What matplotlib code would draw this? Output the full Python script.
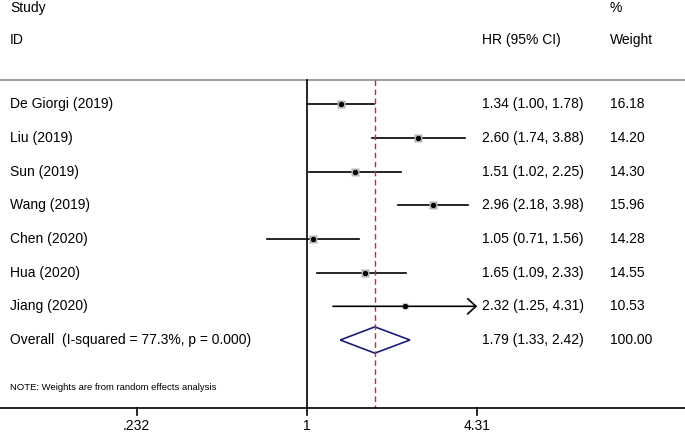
import numpy as np
import matplotlib.pyplot as plt

studies = ['De Giorgi (2019)', 'Liu (2019)', 'Sun (2019)', 'Wang (2019)',
           'Chen (2020)', 'Hua (2020)', 'Jiang (2020)']
hr = [1.34, 2.60, 1.51, 2.96, 1.05, 1.65, 2.32]
lo = [1.00, 1.74, 1.02, 2.18, 0.71, 1.09, 1.25]
hi = [1.78, 3.88, 2.25, 3.98, 1.56, 2.33, 4.31]
weight = [16.18, 14.20, 14.30, 15.96, 14.28, 14.55, 10.53]

overall_label = 'Overall  (I-squared = 77.3%, p = 0.000)'
overall = [1.79, 1.33, 2.42]
overall_weight = 100.00
xticks = [0.232, 1, 4.31]
xticklabels = ['.232', '1', '4.31']
note = 'NOTE: Weights are from random effects analysis'

plt.rcParams['font.family'] = ['Liberation Sans', 'DejaVu Sans']

fig = plt.figure(figsize=(6.85, 4.32), dpi=100)
ax = fig.add_axes([0, 0, 1, 1])
ax.set_xscale('log')
# x pixel = 307 + 116.5*ln(x)
ax.set_xlim(np.exp(-307 / 116.5), np.exp((685 - 307) / 116.5))
ax.set_ylim(9.73, -3.09)
ax.axis('off')

trans = ax.get_yaxis_transform()  # x in axes fraction, y in data
tx_name, tx_hr, tx_w = 10 / 685, 482 / 685, 610 / 685
fs = 10

# headers
ax.text(tx_name, -2.85, 'Study', transform=trans, fontsize=fs, va='center')
ax.text(tx_name, -1.9, 'ID', transform=trans, fontsize=fs, va='center')
ax.text(tx_hr, -1.9, 'HR (95% CI)', transform=trans, fontsize=fs, va='center')
ax.text(tx_w, -2.85, '%', transform=trans, fontsize=fs, va='center')
ax.text(tx_w, -1.9, 'Weight', transform=trans, fontsize=fs, va='center')
ax.axhline(-0.71, color='#a0a0a0', lw=1.5)

xmax = xticks[-1]
for i, (s, h, l, u, w) in enumerate(zip(studies, hr, lo, hi, weight)):
    if u >= xmax:
        ax.annotate('', xy=(xmax, i), xytext=(l, i),
                    arrowprops=dict(arrowstyle='->,head_length=0.6,head_width=0.55',
                                    color='black', lw=1.2, shrinkA=0, shrinkB=0))
    else:
        ax.plot([l, u], [i, i], color='black', lw=1.2)
    ax.plot(h, i, marker='s', ms=5.2 * np.sqrt(w / 15), color='#b4b4b4', mec='none')
    ax.plot(h, i, marker='o', ms=2.8, color='black')
    ax.text(tx_name, i, s, transform=trans, fontsize=fs, va='center')
    ax.text(tx_hr, i, f'{h:.2f} ({l:.2f}, {u:.2f})', transform=trans, fontsize=fs, va='center')
    ax.text(tx_w, i, f'{w:.2f}', transform=trans, fontsize=fs, va='center')

# overall diamond
yo = len(studies)
est, olo, ohi = overall
ax.fill([olo, est, ohi, est, olo], [yo, yo - 0.39, yo, yo + 0.39, yo],
        facecolor='none', edgecolor='#1c1c78', lw=1.2)
ax.text(tx_name, yo, overall_label, transform=trans, fontsize=fs, va='center')
ax.text(tx_hr, yo, f'{est:.2f} ({olo:.2f}, {ohi:.2f})', transform=trans, fontsize=fs, va='center')
ax.text(tx_w, yo, f'{overall_weight:.2f}', transform=trans, fontsize=fs, va='center')

ax.text(tx_name, 8.4, note, transform=trans, fontsize=6.8, va='center')

# reference lines
ax.plot([1, 1], [-0.71, 9.02], color='black', lw=1.2)
ax.plot([est, est], [-0.71, 9.02], color='#c0302a', lw=1.0, ls=(0, (4, 2.5)))

# bottom axis
ax.axhline(9.02, color='black', lw=1.2)
for t, lab in zip(xticks, xticklabels):
    ax.plot([t, t], [9.02, 9.22], color='black', lw=1.2)
    ax.text(t, 9.55, lab, fontsize=fs, ha='center', va='center')

fig.savefig('out.png', dpi=100)
